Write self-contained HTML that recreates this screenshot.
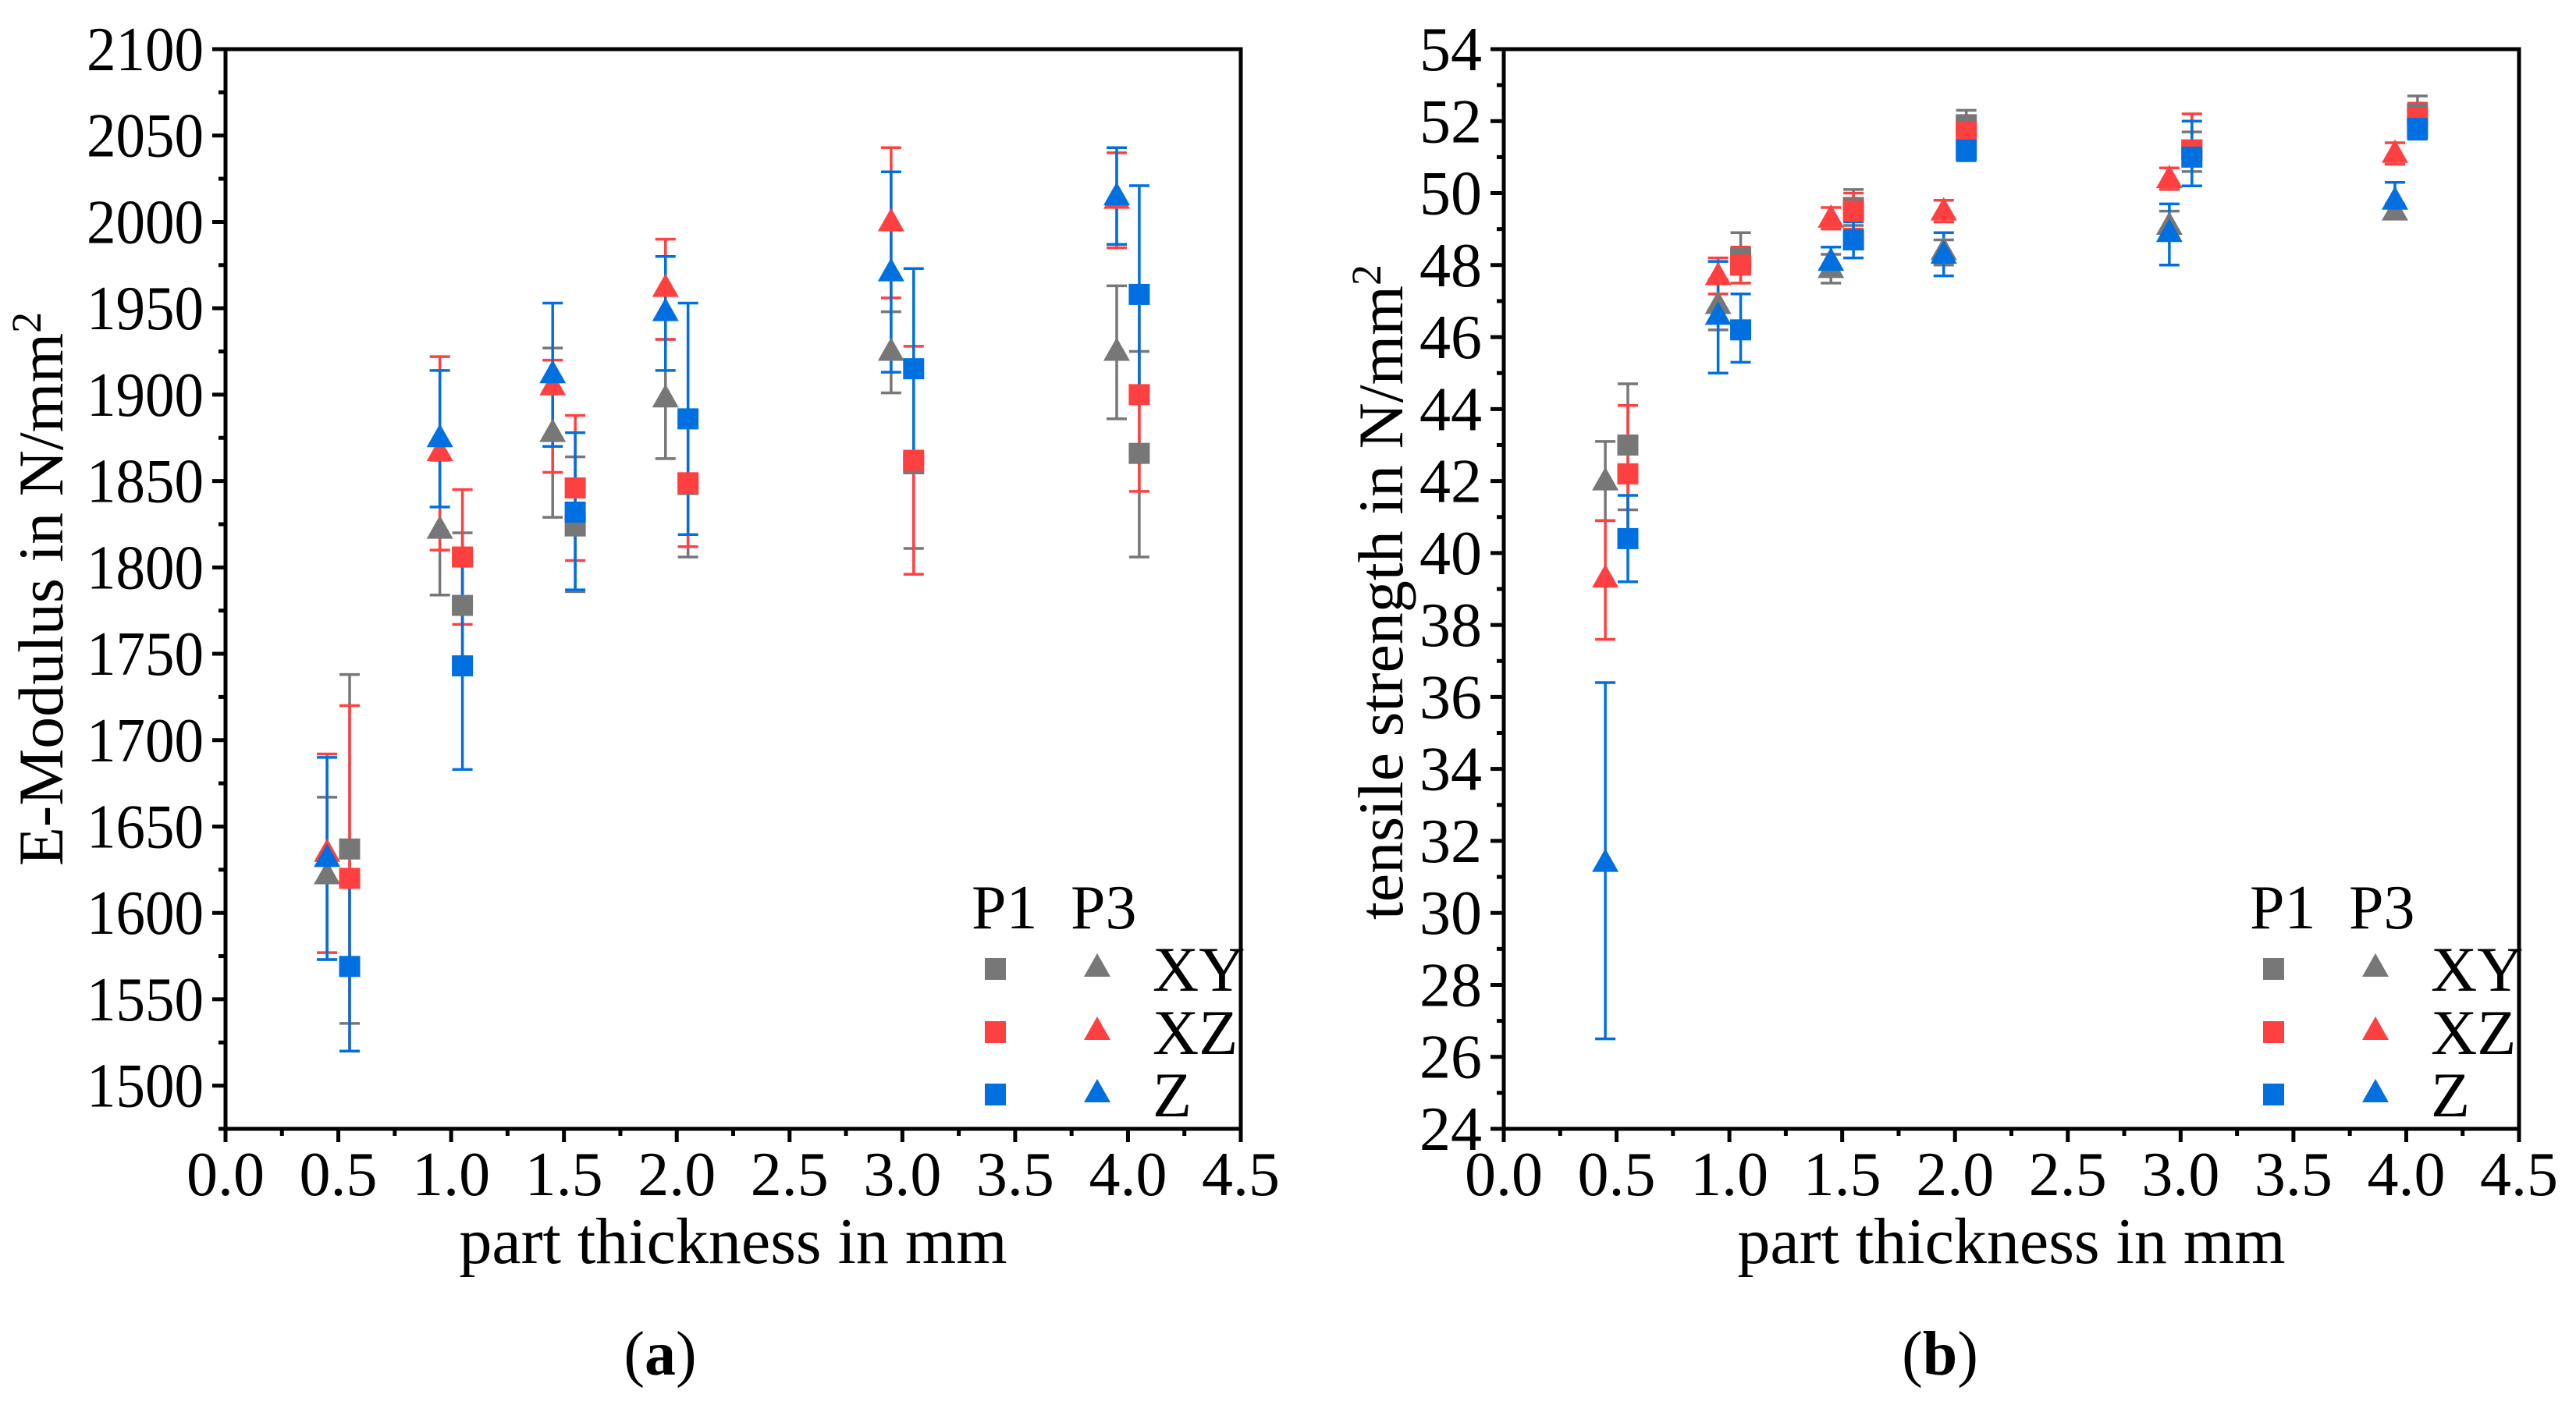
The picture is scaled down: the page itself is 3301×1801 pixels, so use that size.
<!DOCTYPE html>
<html><head><meta charset="utf-8">
<style>
html,body{margin:0;padding:0;background:#fff;}
svg{display:block;font-family:"Liberation Serif","DejaVu Serif",serif;}
</style></head>
<body>
<svg id="fig" width="3301" height="1801" viewBox="0 0 3301 1801" xmlns="http://www.w3.org/2000/svg" font-family="Liberation Serif, DejaVu Serif, serif"></svg>
<script>
// ---------- data ----------
const xCats = [0.5, 1.0, 1.5, 2.0, 3.0, 4.0];
const seriesNames = ['XY', 'XZ', 'Z'];
const xTickLabels = ['0.0','0.5','1.0','1.5','2.0','2.5','3.0','3.5','4.0','4.5'];

// E-Modulus (a)
const eP3_XY = [1622, 1822, 1878, 1898, 1925, 1925];
const eP3_XY_lo = [1573, 1784, 1829, 1863, 1901, 1886];
const eP3_XY_hi = [1667, 1862, 1927, 1932, 1948, 1963];
const eP3_XZ = [1635, 1867, 1905, 1962, 2000, 2013];
const eP3_XZ_lo = [1577, 1810, 1855, 1932, 1956, 1985];
const eP3_XZ_hi = [1692, 1922, 1920, 1990, 2043, 2040];
const eP3_Z = [1632, 1875, 1912, 1948, 1971, 2015];
const eP3_Z_lo = [1573, 1835, 1870, 1914, 1913, 1987];
const eP3_Z_hi = [1690, 1914, 1953, 1980, 2029, 2043];
const eP1_XY = [1637, 1778, 1824, 1848, 1860, 1866];
const eP1_XY_lo = [1536, 1740, 1786, 1806, 1811, 1806];
const eP1_XY_hi = [1738, 1820, 1864, 1890, 1910, 1925];
const eP1_XZ = [1620, 1806, 1846, 1849, 1862, 1900];
const eP1_XZ_lo = [1520, 1767, 1804, 1812, 1796, 1844];
const eP1_XZ_hi = [1720, 1845, 1888, 1888, 1928, 1956];
const eP1_Z = [1569, 1743, 1832, 1886, 1915, 1958];
const eP1_Z_lo = [1520, 1683, 1787, 1819, 1858, 1895];
const eP1_Z_hi = [1620, 1803, 1878, 1953, 1973, 2021];
const eYTicks = ['1500','1550','1600','1650','1700','1750','1800','1850','1900','1950','2000','2050','2100'];

// Tensile strength (b)
const tP3_XY = [42.0, 46.9, 47.9, 48.4, 49.1, 49.5];
const tP3_XY_lo = [40.9, 46.2, 47.5, 48.0, 48.7, 49.3];
const tP3_XY_hi = [43.1, 47.6, 48.3, 48.7, 49.5, 49.7];
const tP3_XZ = [39.3, 47.7, 49.3, 49.5, 50.4, 51.1];
const tP3_XZ_lo = [37.6, 47.2, 49.0, 49.2, 50.1, 50.8];
const tP3_XZ_hi = [40.9, 48.2, 49.6, 49.8, 50.7, 51.4];
const tP3_Z = [31.4, 46.6, 48.1, 48.3, 48.9, 49.8];
const tP3_Z_lo = [26.5, 45.0, 47.7, 47.7, 48.0, 49.3];
const tP3_Z_hi = [36.4, 48.1, 48.5, 48.9, 49.7, 50.3];
const tP1_XY = [43.0, 48.2, 49.6, 51.9, 51.2, 52.2];
const tP1_XY_lo = [41.2, 47.5, 49.1, 51.5, 50.6, 51.7];
const tP1_XY_hi = [44.7, 48.9, 50.1, 52.3, 51.7, 52.7];
const tP1_XZ = [42.2, 48.0, 49.5, 51.7, 51.2, 52.1];
const tP1_XZ_lo = [40.3, 47.5, 49.0, 51.2, 50.2, 51.6];
const tP1_XZ_hi = [44.1, 48.5, 50.0, 52.1, 52.2, 52.5];
const tP1_Z = [40.4, 46.2, 48.7, 51.2, 51.0, 51.8];
const tP1_Z_lo = [39.2, 45.3, 48.2, 50.9, 50.2, 51.5];
const tP1_Z_hi = [41.6, 47.2, 49.2, 51.6, 52.0, 52.1];
const tYTicks = ['24','26','28','30','32','34','36','38','40','42','44','46','48','50','52','54'];

// ---------- drawing ----------
const NS = 'http://www.w3.org/2000/svg';
const svg = document.getElementById('fig');
const COLORS = ['#777777', '#ff4040', '#0070e0'];

function mk(tag, attrs, parent, txt) {
  const e = document.createElementNS(NS, tag);
  for (const k in attrs) e.setAttribute(k, attrs[k]);
  if (txt !== undefined) e.textContent = txt;
  parent.appendChild(e);
  return e;
}

function drawPanel(cfg) {
  const g = mk('g', {}, svg);
  
  
  const L = cfg.left, R = cfg.left + 1301, T = 63, B = 1447;
  const xs = v => L + (v / 4.5) * (R - L);
  const ys = v => B - (v - cfg.ymin) / (cfg.ymax - cfg.ymin) * (B - T);

  const ax = mk('g', {stroke: '#000', 'stroke-width': 5}, g);
  
  
  for (let i = 0; i <= 18; i++) {
    const v = i * 0.25, x = xs(v), len = (i % 2 === 0) ? 17 : 9;
    mk('line', {x1: x, x2: x, y1: B, y2: B + len}, ax);
  }
  const nMinor = Math.round((cfg.ymax - cfg.ymin) / cfg.minorStep);
  for (let i = 0; i <= nMinor; i++) {
    const v = cfg.ymin + i * cfg.minorStep;
    const y = ys(v);
    const q = (v - cfg.majorStart) / cfg.majorStep;
    const major = Math.abs(q - Math.round(q)) < 1e-6 && q > -1e-6;
    mk('line', {x1: L - (major ? 17 : 9), x2: L, y1: y, y2: y}, ax);
  }
  const fr = mk('rect', {x: L, y: T, width: R - L, height: B - T, fill: 'none', stroke: '#000', 'stroke-width': 5}, g);
  
  

  xTickLabels.forEach((t, i) => {
    const el = mk('text', {x: xs(i * 0.5), y: 1532, 'font-size': 80, 'text-anchor': 'middle'}, g, t);
    
    
  });
  cfg.yTicks.forEach(t => {
    const el = mk('text', {x: L - 28, y: ys(parseFloat(t)) + 27, 'font-size': 80, 'text-anchor': 'end',
      textLength: t.length === 4 ? 150 : 80, lengthAdjust: 'spacingAndGlyphs'}, g, t);
    
    
  });
  const xt = mk('text', {x: (L + R) / 2, y: 1619, 'font-size': 84, 'text-anchor': 'middle'}, g, 'part thickness in mm');
  
  
  const yt = mk('text', {x: 0, y: 0, 'font-size': 82, 'text-anchor': 'middle', transform: `translate(${cfg.ytitleX},${cfg.ytitleY}) rotate(-90)`}, g);
  
  
  yt.appendChild(document.createTextNode(cfg.ytitle));
  mk('tspan', {'font-size': 54, dy: -28}, yt, '2');

  const pl = mk('text', {x: cfg.panelX, y: 1762, 'font-size': 80, 'text-anchor': 'middle'}, g);
  
  
  pl.appendChild(document.createTextNode('('));
  mk('tspan', {'font-weight': 'bold'}, pl, cfg.panel);
  pl.appendChild(document.createTextNode(')'));

  const data = cfg.data;
  const drawErr = (vals, lo, hi, off, col) => {
    vals.forEach((v, i) => {
      const x = xs(xCats[i] + off);
      const eg = mk('g', {stroke: col, 'stroke-width': 3.5}, g);
      
      
      mk('line', {x1: x, x2: x, y1: ys(lo[i]), y2: ys(hi[i])}, eg);
      mk('line', {x1: x - 13, x2: x + 13, y1: ys(lo[i]), y2: ys(lo[i])}, eg);
      mk('line', {x1: x - 13, x2: x + 13, y1: ys(hi[i]), y2: ys(hi[i])}, eg);
    });
  };
  const drawSq = (vals, col, nm) => {
    vals.forEach((v, i) => {
      const x = xs(xCats[i] + 0.05), y = ys(v);
      const r = mk('rect', {x: x - 13.5, y: y - 13.5, width: 27, height: 27, fill: col}, g);
      
      
    });
  };
  const drawTri = (vals, col, nm) => {
    vals.forEach((v, i) => {
      const x = xs(xCats[i] - 0.05), y = ys(v);
      const p = mk('polygon', {points: `${x},${y - 18} ${x - 17},${y + 12} ${x + 17},${y + 12}`, fill: col}, g);
      
      
    });
  };
  for (let s = 0; s < 3; s++) {
    drawErr(data.p1[s], data.p1lo[s], data.p1hi[s], 0.05, COLORS[s]);
    drawErr(data.p3[s], data.p3lo[s], data.p3hi[s], -0.05, COLORS[s]);
  }
  for (let s = 0; s < 3; s++) {
    drawSq(data.p1[s], COLORS[s], seriesNames[s].toLowerCase());
    drawTri(data.p3[s], COLORS[s], seriesNames[s].toLowerCase());
  }

  const lg = mk('g', {}, g);
  
  
  const o = cfg.left - 289;
  mk('text', {x: 1245 + o, y: 1190, 'font-size': 80}, lg, 'P1');
  mk('text', {x: 1372 + o, y: 1190, 'font-size': 80}, lg, 'P3');
  const rows = [1242, 1323, 1403];
  rows.forEach((ry, s) => {
    const le = mk('g', {}, lg);
    
    
    mk('rect', {x: 1262 + o, y: ry - 14, width: 27, height: 28, fill: COLORS[s]}, le);
    mk('polygon', {points: `${1406 + o},${ry - 20} ${1389 + o},${ry + 10} ${1423 + o},${ry + 10}`, fill: COLORS[s]}, le);
    mk('text', {x: 1477 + o, y: ry + 28, 'font-size': 82}, le, seriesNames[s]);
  });
}

drawPanel({
  name: 'chart-e-modulus', left: 289, ymin: 1475, ymax: 2100,
  minorStep: 25, majorStep: 50, majorStart: 1500, yTicks: eYTicks,
  ytitle: 'E-Modulus in N/mm', ytitleX: 80, ytitleY: 755, panel: 'a', panelX: 846,
  data: {
    p1: [eP1_XY, eP1_XZ, eP1_Z], p1lo: [eP1_XY_lo, eP1_XZ_lo, eP1_Z_lo], p1hi: [eP1_XY_hi, eP1_XZ_hi, eP1_Z_hi],
    p3: [eP3_XY, eP3_XZ, eP3_Z], p3lo: [eP3_XY_lo, eP3_XZ_lo, eP3_Z_lo], p3hi: [eP3_XY_hi, eP3_XZ_hi, eP3_Z_hi]
  }
});
drawPanel({
  name: 'chart-tensile-strength', left: 1927, ymin: 24, ymax: 54,
  minorStep: 1, majorStep: 2, majorStart: 24, yTicks: tYTicks,
  ytitle: 'tensile strength in N/mm', ytitleX: 1797, ytitleY: 759, panel: 'b', panelX: 2486,
  data: {
    p1: [tP1_XY, tP1_XZ, tP1_Z], p1lo: [tP1_XY_lo, tP1_XZ_lo, tP1_Z_lo], p1hi: [tP1_XY_hi, tP1_XZ_hi, tP1_Z_hi],
    p3: [tP3_XY, tP3_XZ, tP3_Z], p3lo: [tP3_XY_lo, tP3_XZ_lo, tP3_Z_lo], p3hi: [tP3_XY_hi, tP3_XZ_hi, tP3_Z_hi]
  }
});
</script>
</body></html>
